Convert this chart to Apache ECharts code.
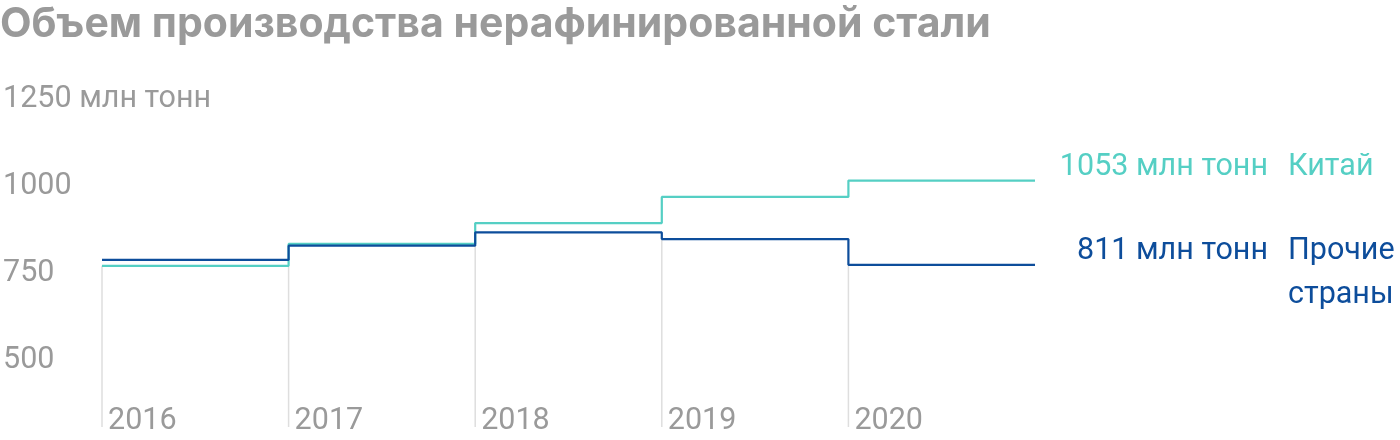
<!DOCTYPE html>
<html>
<head>
<meta charset="utf-8">
<script src="https://cdn.jsdelivr.net/npm/echarts@6/dist/echarts.min.js"></script>
<style>
  html, body { margin: 0; padding: 0; background: #fff; }
  #chart { width: 1400px; height: 440px; }
</style>
</head>
<body>
<div id="chart"></div>
<script>
// Данные (млн тонн)
const years = [2016, 2017, 2018, 2019, 2020];
const chinaValues = [808, 871, 931, 1006, 1053];
const otherValues = [825, 866, 904, 885, 811];
const yTicks = [500, 750, 1000, 1250];
const chinaName = 'Китай';
const otherName = 'Прочие\nстраны';

const FONT = 'Roboto';
const FS = 30.5;
const TEAL = '#55cfc4';
const BLUE = '#0d4d9b';
const GREY = '#9a9a9a';

const chart = echarts.init(document.getElementById('chart'));

// ступенька держит значение года до начала следующего
const stepData = values => {
    const pts = years.map((y, i) => [y, values[i]]);
    pts.push([years[years.length - 1] + 1, values[values.length - 1]]);
    return pts;
};

// нижняя точка на границе года — от неё вниз идёт серая линия
const dropData = years.map((y, i) => {
    const vals = [chinaValues[i], otherValues[i]];
    if (i > 0) vals.push(chinaValues[i - 1], otherValues[i - 1]);
    return [y, Math.min(...vals)];
});

// подпись значения справа от конца линии
const endLabel = color => ({
    show: true,
    distance: 0,
    align: 'right',
    verticalAlign: 'middle',
    offset: [233, -13],
    color,
    fontSize: FS,
    fontFamily: FONT,
    formatter: params => params.value[1] + ' млн тонн'
});

// название ряда ещё правее
const nameMark = (color, name, values) => ({
    symbol: 'circle',
    symbolSize: 0,
    silent: true,
    data: [{ coord: [years[years.length - 1] + 1, values[values.length - 1]] }],
    label: {
        show: true,
        position: [253, -35],
        align: 'left',
        verticalAlign: 'top',
        lineHeight: 44,
        color,
        fontSize: FS,
        fontFamily: FONT,
        formatter: () => name
    }
});

const option = {
    animation: false,
    title: {
        text: 'Объем производства нерафинированной стали',
        left: 0,
        top: 0,
        padding: [4, 0, 0, 0],
        textStyle: { color: GREY, fontSize: 41, fontWeight: 'bold', fontFamily: 'Inter' }
    },
    grid: { left: 102, right: 365, top: 112, bottom: 13 },
    xAxis: {
        type: 'value',
        min: 2016,
        max: 2021,
        axisLine: { show: false },
        axisTick: { show: false },
        splitLine: { show: false },
        axisLabel: {
            customValues: years,
            inside: true,
            margin: 6,
            align: 'left',
            verticalAlign: 'middle',
            padding: [0, 0, 0, 6],
            color: GREY,
            fontSize: FS,
            fontFamily: FONT,
            formatter: v => String(v)
        }
    },
    yAxis: {
        type: 'value',
        min: 345,
        max: 1250,
        axisLine: { show: false },
        axisTick: { show: false },
        splitLine: { show: false },
        axisLabel: {
            customValues: yTicks,
            margin: 99,
            align: 'left',
            verticalAlign: 'bottom',
            lineHeight: 26,
            color: GREY,
            fontSize: FS,
            fontFamily: FONT,
            formatter: v => v === 1250 ? v + ' млн тонн' : String(v)
        }
    },
    series: [
        {
            type: 'custom',
            silent: true,
            z: 1,
            data: dropData,
            renderItem: (params, api) => {
                const top = api.coord([api.value(0), api.value(1)]);
                const bottom = params.coordSys.y + params.coordSys.height;
                return {
                    type: 'line',
                    shape: { x1: top[0], y1: top[1], x2: top[0], y2: bottom },
                    style: { stroke: '#dedede', lineWidth: 1.5 }
                };
            }
        },
        {
            name: 'Прочие страны',
            type: 'line',
            step: 'end',
            z: 3,
            data: stepData(otherValues),
            showSymbol: false,
            lineStyle: { color: BLUE, width: 2.2 },
            endLabel: endLabel(BLUE),
            markPoint: nameMark(BLUE, otherName, otherValues)
        },
        {
            name: 'Китай',
            type: 'line',
            step: 'end',
            z: 2,
            data: stepData(chinaValues),
            showSymbol: false,
            lineStyle: { color: TEAL, width: 2.2 },
            endLabel: endLabel(TEAL),
            markPoint: nameMark(TEAL, chinaName, chinaValues)
        }
    ]
};

chart.setOption(option);
</script>
</body>
</html>
